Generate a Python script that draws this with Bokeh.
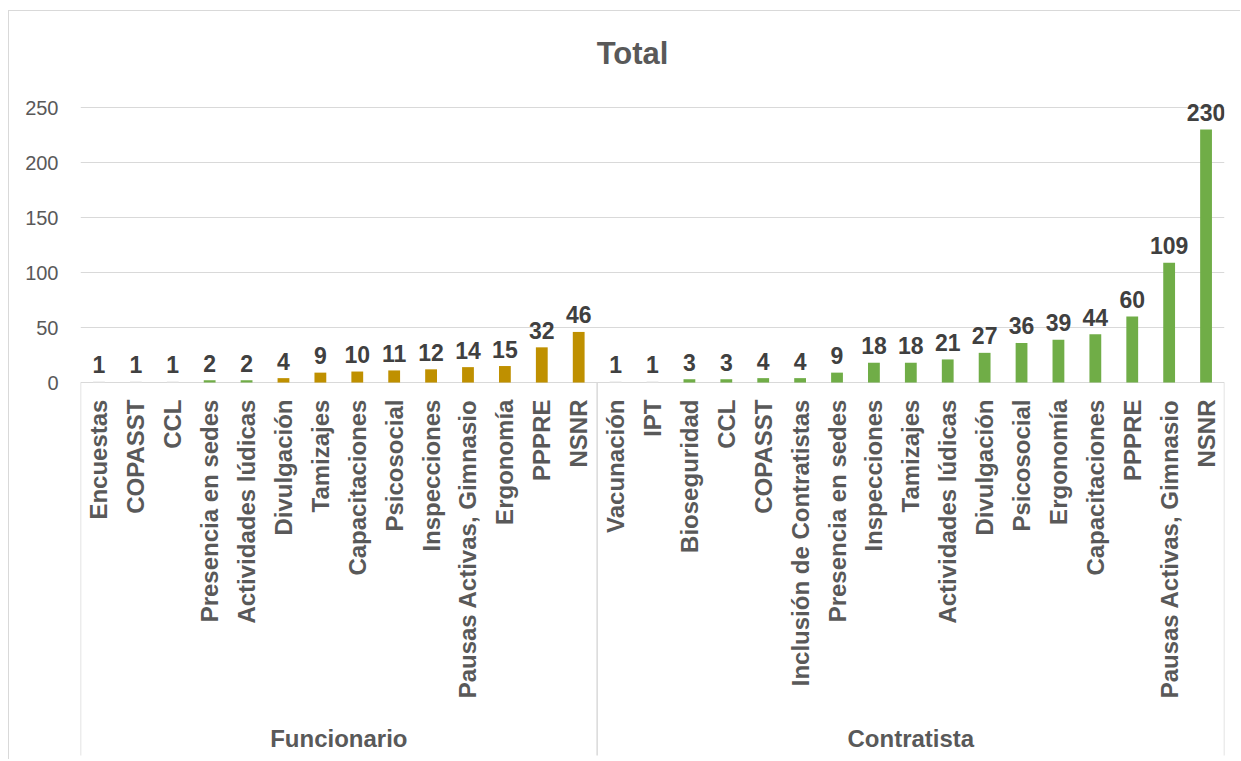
import math
from bokeh.plotting import figure
from bokeh.models import FactorRange, Range1d, FixedTicker, ColumnDataSource
from bokeh.core.properties import value
from bokeh.embed import file_html
from bokeh.resources import INLINE

# ---------------- data ----------------
title_text = "Total"
groups = ["Funcionario", "Contratista"]
func_cats = ["Encuestas", "COPASST", "CCL", "Presencia en sedes", "Actividades lúdicas",
             "Divulgación", "Tamizajes", "Capacitaciones", "Psicosocial", "Inspecciones",
             "Pausas Activas, Gimnasio", "Ergonomía", "PPPRE", "NSNR"]
func_vals = [1, 1, 1, 2, 2, 4, 9, 10, 11, 12, 14, 15, 32, 46]
contr_cats = ["Vacunación", "IPT", "Bioseguridad", "CCL", "COPASST",
              "Inclusión de Contratistas", "Presencia en sedes", "Inspecciones", "Tamizajes",
              "Actividades lúdicas", "Divulgación", "Psicosocial", "Ergonomía",
              "Capacitaciones", "PPPRE", "Pausas Activas, Gimnasio", "NSNR"]
contr_vals = [1, 1, 3, 3, 4, 4, 9, 18, 18, 21, 27, 36, 39, 44, 60, 109, 230]
y_ticks = [0, 50, 100, 150, 200, 250]

# ---------------- styles ----------------
GOLD = "#BF9000"
GREEN = "#70AD47"
FAINT = "#E4E4E4"
func_colors = [FAINT] * 3 + [GREEN] * 2 + [GOLD] * 9
contr_colors = [FAINT] * 2 + [GREEN] * 15
FONT = "Liberation Sans"
GRAY = "#595959"
DARK = "#404040"
LINE = "#D9D9D9"

factors = [(groups[0], c) for c in func_cats] + [(groups[1], c) for c in contr_cats]
values = func_vals + contr_vals
colors = func_colors + contr_colors
n_f, n_c = len(func_cats), len(contr_cats)
n_total = n_f + n_c

src = ColumnDataSource(dict(
    x=factors, top=values, color=colors,
    label=[str(v) for v in values],
    name=[f[1] for f in factors],
    zero=[0] * len(values),
))

p = figure(
    width=1232, height=749,
    x_range=FactorRange(*factors, factor_padding=0, group_padding=0, subgroup_padding=0,
                        range_padding=0),
    y_range=Range1d(-343.6, 337.3),
    x_axis_location=None,
    output_backend="svg", toolbar_location=None,
    min_border_left=71, min_border_right=17, min_border_top=0, min_border_bottom=0,
)
p.styles = {"border-top": "1px solid #D9D9D9", "border-left": "1px solid #D9D9D9",
            "margin-left": "8px", "margin-top": "10px"}
p.outline_line_color = None
p.background_fill_color = "white"
p.border_fill_color = "white"

# y axis
p.yaxis.ticker = FixedTicker(ticks=y_ticks)
p.yaxis.axis_line_color = None
p.yaxis.major_tick_line_color = None
p.yaxis.minor_tick_line_color = None
p.yaxis.major_label_standoff = 16
p.yaxis.major_label_text_font = FONT
p.yaxis.major_label_text_font_size = "20px"
p.yaxis.major_label_text_color = GRAY

p.xgrid.visible = False
p.ygrid.ticker = FixedTicker(ticks=y_ticks)
p.ygrid.grid_line_color = LINE
p.ygrid.grid_line_width = 1.2

# bars
p.vbar(x="x", top="top", width=0.32, fill_color="color", line_color=None, source=src)

# value labels
p.text(x="x", y="top", text="label", source=src, text_align="center",
       text_baseline="alphabetic", y_offset=-17,
       text_font=value(FONT), text_font_style="bold", text_font_size="23px",
       text_color=DARK)

# category labels (vertical)
p.text(x="x", y="zero", text="name", source=src, angle=math.pi / 2,
       text_align="right", text_baseline="middle", y_offset=17,
       text_font=value(FONT), text_font_style="bold", text_font_size="24px",
       text_color=GRAY)

# separators
sep_x = [0, n_f, n_total]
p.segment(x0=sep_x, y0=[0] * 3, x1=sep_x, y1=[-339.1] * 3, line_color=LINE, line_width=1.5)

# group labels
p.text(x=[n_f / 2, n_f + n_c / 2], y=[0, 0], text=groups, text_align="center",
       text_baseline="middle", y_offset=356,
       text_font=value(FONT), text_font_style="bold", text_font_size="24px",
       text_color=GRAY)

# title
p.text(x=[n_total / 2], y=[0], text=[title_text], text_align="center",
       text_baseline="middle", x_offset=-20, y_offset=-329,
       text_font=value(FONT), text_font_style="bold", text_font_size="31px",
       text_color=GRAY)

open("out.html", "w").write(file_html(p, INLINE))
